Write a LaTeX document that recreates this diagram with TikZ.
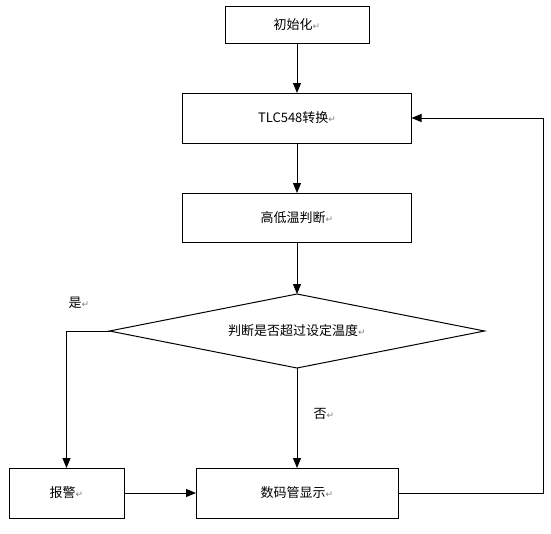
\documentclass[tikz,border=0pt]{standalone}
\usepackage{fontspec}
\setmainfont{Noto Sans CJK SC}
\newfontfamily\symfont{DejaVu Sans}
\usetikzlibrary{shapes.geometric, arrows.meta, positioning}
\newcommand{\parmark}{{\symfont\color{gray}\fontsize{9}{9}\selectfont ↵}}

\begin{document}
\begin{tikzpicture}[
    x=1pt, y=1pt,
    node distance = 50pt and 72pt,
    font=\fontsize{13}{15}\selectfont,
    box/.style = {rectangle, draw, line width=1pt, minimum width=229pt, minimum height=50pt, inner sep=0pt, outer sep=0pt},
    decision/.style = {diamond, draw, line width=1pt, aspect=5, minimum width=375pt, minimum height=74pt, inner sep=0pt, outer sep=0pt},
    arrow/.style = {line width=1pt, -{Triangle[width=8pt,length=10pt]}}
]

\useasboundingbox (0,0) rectangle (551,-533);

% Define nodes
\node[box, minimum width=144pt, minimum height=37pt] (init) at (297,-24.5) {初始化\parmark};
\node[box, below=of init] (convert) {TLC548转换\parmark};
\node[box, below=of convert, minimum height=49pt] (judge) {高低温判断\parmark};
\node[decision, below=52pt of judge] (check) {判断是否超过设定温度\parmark};
\node[box, below=100pt of check, minimum width=202pt] (display) {数码管显示\parmark};
\node[box, left=of display, minimum width=115pt] (alarm) {报警\parmark};
\node (yes) at (79,-303) {是\parmark};
\node (no) at (324,-414) {否\parmark};

% Draw arrows
\draw[arrow] (init) -- (convert);
\draw[arrow] (convert) -- (judge);
\draw[arrow] (judge) -- (check);
\draw[arrow] (check) -- (display);
\draw[arrow] (check.west) -| (alarm);
\draw[arrow] (alarm) -- (display);
\draw[arrow] (display.east) -- ++(145,0) |- (convert.east);

\end{tikzpicture}
\end{document}
